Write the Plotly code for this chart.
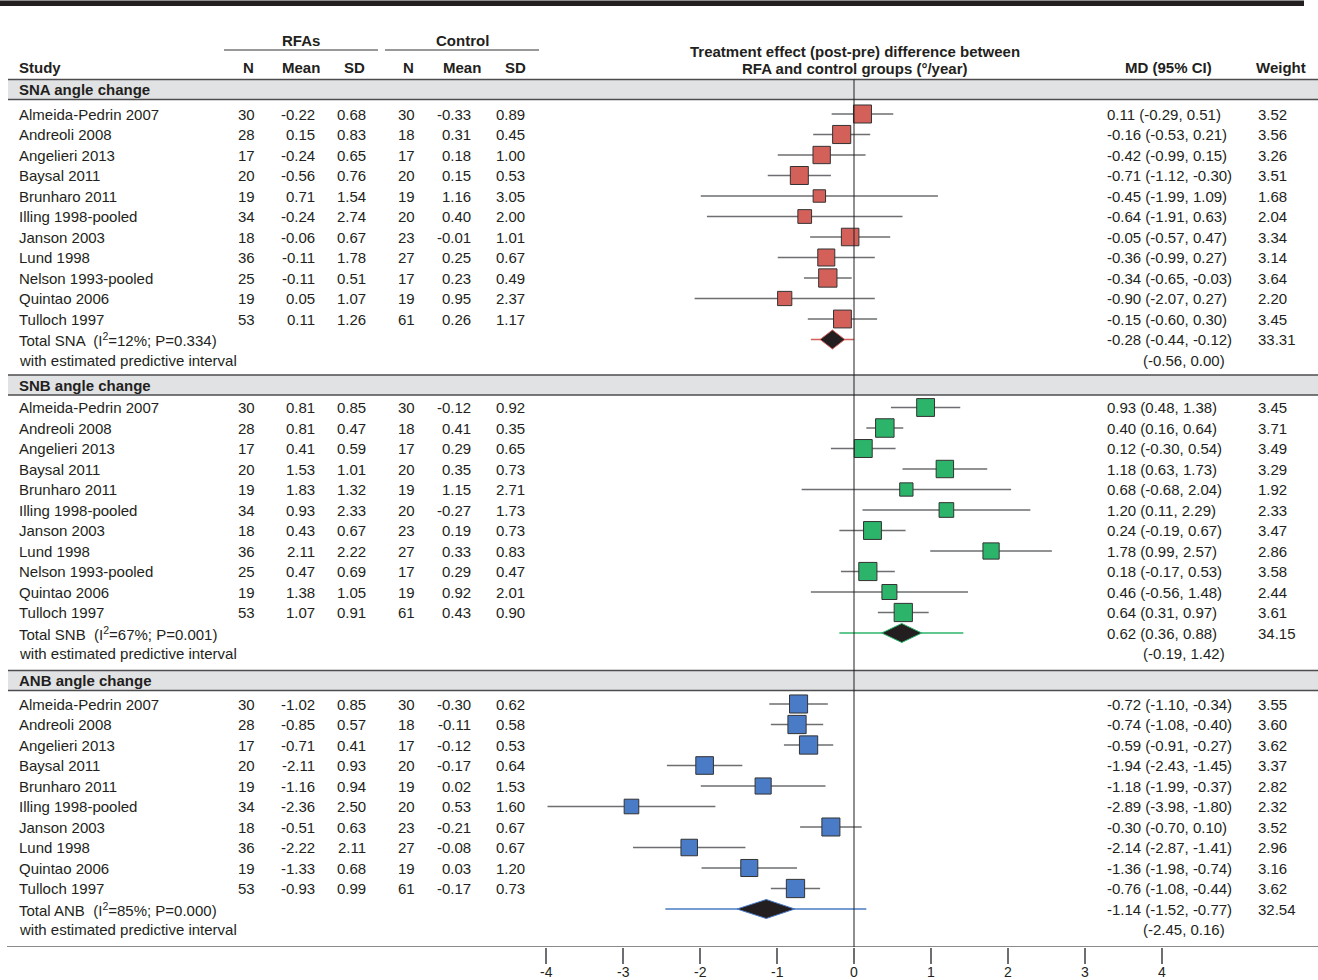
import plotly.graph_objects as go

W, H = 1318, 980

# ---------------- data ----------------
sections = ["SNA angle change", "SNB angle change", "ANB angle change"]
section_short = ["SNA", "SNB", "ANB"]

sna_names = ["Almeida-Pedrin 2007", "Andreoli 2008", "Angelieri 2013", "Baysal 2011", "Brunharo 2011",
             "Illing 1998-pooled", "Janson 2003", "Lund 1998", "Nelson 1993-pooled", "Quintao 2006", "Tulloch 1997"]
sna_rfa_n = [30, 28, 17, 20, 19, 34, 18, 36, 25, 19, 53]
sna_rfa_mean = [-0.22, 0.15, -0.24, -0.56, 0.71, -0.24, -0.06, -0.11, -0.11, 0.05, 0.11]
sna_rfa_sd = [0.68, 0.83, 0.65, 0.76, 1.54, 2.74, 0.67, 1.78, 0.51, 1.07, 1.26]
sna_ctl_n = [30, 18, 17, 20, 19, 20, 23, 27, 17, 19, 61]
sna_ctl_mean = [-0.33, 0.31, 0.18, 0.15, 1.16, 0.40, -0.01, 0.25, 0.23, 0.95, 0.26]
sna_ctl_sd = [0.89, 0.45, 1.00, 0.53, 3.05, 2.00, 1.01, 0.67, 0.49, 2.37, 1.17]
sna_md = [0.11, -0.16, -0.42, -0.71, -0.45, -0.64, -0.05, -0.36, -0.34, -0.90, -0.15]
sna_lo = [-0.29, -0.53, -0.99, -1.12, -1.99, -1.91, -0.57, -0.99, -0.65, -2.07, -0.60]
sna_hi = [0.51, 0.21, 0.15, -0.30, 1.09, 0.63, 0.47, 0.27, -0.03, 0.27, 0.30]
sna_w = [3.52, 3.56, 3.26, 3.51, 1.68, 2.04, 3.34, 3.14, 3.64, 2.20, 3.45]

snb_names = ["Almeida-Pedrin 2007", "Andreoli 2008", "Angelieri 2013", "Baysal 2011", "Brunharo 2011",
             "Illing 1998-pooled", "Janson 2003", "Lund 1998", "Nelson 1993-pooled", "Quintao 2006", "Tulloch 1997"]
snb_rfa_n = [30, 28, 17, 20, 19, 34, 18, 36, 25, 19, 53]
snb_rfa_mean = [0.81, 0.81, 0.41, 1.53, 1.83, 0.93, 0.43, 2.11, 0.47, 1.38, 1.07]
snb_rfa_sd = [0.85, 0.47, 0.59, 1.01, 1.32, 2.33, 0.67, 2.22, 0.69, 1.05, 0.91]
snb_ctl_n = [30, 18, 17, 20, 19, 20, 23, 27, 17, 19, 61]
snb_ctl_mean = [-0.12, 0.41, 0.29, 0.35, 1.15, -0.27, 0.19, 0.33, 0.29, 0.92, 0.43]
snb_ctl_sd = [0.92, 0.35, 0.65, 0.73, 2.71, 1.73, 0.73, 0.83, 0.47, 2.01, 0.90]
snb_md = [0.93, 0.40, 0.12, 1.18, 0.68, 1.20, 0.24, 1.78, 0.18, 0.46, 0.64]
snb_lo = [0.48, 0.16, -0.30, 0.63, -0.68, 0.11, -0.19, 0.99, -0.17, -0.56, 0.31]
snb_hi = [1.38, 0.64, 0.54, 1.73, 2.04, 2.29, 0.67, 2.57, 0.53, 1.48, 0.97]
snb_w = [3.45, 3.71, 3.49, 3.29, 1.92, 2.33, 3.47, 2.86, 3.58, 2.44, 3.61]

anb_names = ["Almeida-Pedrin 2007", "Andreoli 2008", "Angelieri 2013", "Baysal 2011", "Brunharo 2011",
             "Illing 1998-pooled", "Janson 2003", "Lund 1998", "Quintao 2006", "Tulloch 1997"]
anb_rfa_n = [30, 28, 17, 20, 19, 34, 18, 36, 19, 53]
anb_rfa_mean = [-1.02, -0.85, -0.71, -2.11, -1.16, -2.36, -0.51, -2.22, -1.33, -0.93]
anb_rfa_sd = [0.85, 0.57, 0.41, 0.93, 0.94, 2.50, 0.63, 2.11, 0.68, 0.99]
anb_ctl_n = [30, 18, 17, 20, 19, 20, 23, 27, 19, 61]
anb_ctl_mean = [-0.30, -0.11, -0.12, -0.17, 0.02, 0.53, -0.21, -0.08, 0.03, -0.17]
anb_ctl_sd = [0.62, 0.58, 0.53, 0.64, 1.53, 1.60, 0.67, 0.67, 1.20, 0.73]
anb_md = [-0.72, -0.74, -0.59, -1.94, -1.18, -2.89, -0.30, -2.14, -1.36, -0.76]
anb_lo = [-1.10, -1.08, -0.91, -2.43, -1.99, -3.98, -0.70, -2.87, -1.98, -1.08]
anb_hi = [-0.34, -0.40, -0.27, -1.45, -0.37, -1.80, 0.10, -1.41, -0.74, -0.44]
anb_w = [3.55, 3.60, 3.62, 3.37, 2.82, 2.32, 3.52, 2.96, 3.16, 3.62]

total_md = [-0.28, 0.62, -1.14]
total_lo = [-0.44, 0.36, -1.52]
total_hi = [-0.12, 0.88, -0.77]
total_w = [33.31, 34.15, 32.54]
pred_lo = [-0.56, -0.19, -2.45]
pred_hi = [0.00, 1.42, 0.16]
total_i2 = [12, 67, 85]
total_p = [0.334, 0.001, 0.000]

tick_vals = [-4, -3, -2, -1, 0, 1, 2, 3, 4]
tick_labels = ["-4", "-3", "-2", "-1", "0", "1", "2", "3", "4"]

colors = ["#d4605a", "#2bb46a", "#4a7bc6"]

data = [
    dict(names=sna_names, rn=sna_rfa_n, rm=sna_rfa_mean, rs=sna_rfa_sd, cn=sna_ctl_n, cm=sna_ctl_mean,
         cs=sna_ctl_sd, md=sna_md, lo=sna_lo, hi=sna_hi, w=sna_w),
    dict(names=snb_names, rn=snb_rfa_n, rm=snb_rfa_mean, rs=snb_rfa_sd, cn=snb_ctl_n, cm=snb_ctl_mean,
         cs=snb_ctl_sd, md=snb_md, lo=snb_lo, hi=snb_hi, w=snb_w),
    dict(names=anb_names, rn=anb_rfa_n, rm=anb_rfa_mean, rs=anb_rfa_sd, cn=anb_ctl_n, cm=anb_ctl_mean,
         cs=anb_ctl_sd, md=anb_md, lo=anb_lo, hi=anb_hi, w=anb_w),
]

# ---------------- layout helpers ----------------
TXT = "#231f20"
FONT = "Liberation Sans, Arial, Helvetica, sans-serif"
FS = 15
X0_PX, UNIT_PX = 854, 77.0
AXIS_Y = 947
ROW = 20.5
HEADER_Y = [89.5, 385, 680.5]     # section band centres (layout)
FIRST_ROW_Y = [114, 407.5, 704]   # first study row of each section (layout)

fig = go.Figure()
annotations = []
shapes = []


def px(x):
    return x / W


def text(xp, y, s, anchor="left", bold=False, size=FS):
    if bold:
        s = "<b>" + s + "</b>"
    annotations.append(dict(x=px(xp), y=y, xref="paper", yref="y", text=s, showarrow=False,
                            xanchor=anchor, yanchor="middle", borderpad=0,
                            font=dict(family=FONT, size=size, color=TXT)))


def hline(x0p, x1p, y, color, width):
    shapes.append(dict(type="line", xref="paper", yref="y", x0=px(x0p), x1=px(x1p), y0=y, y1=y,
                       line=dict(color=color, width=width), layer="below"))


# top black bar
shapes.append(dict(type="rect", xref="paper", yref="y", x0=0, x1=px(1304), y0=0.5, y1=6,
                   fillcolor="#231f20", line=dict(width=0), layer="below"))

# column headers
text(301, 40, "RFAs", "center", True)
text(462, 40, "Control", "center", True)
hline(224, 378, 50, "#333333", 1)
hline(385, 539, 50, "#333333", 1)
HY = 67
text(18, HY, "Study", "left", True)
for lab, xc in zip(["N", "Mean", "SD", "N", "Mean", "SD"], [248, 301, 354, 408, 462, 515]):
    text(xc, HY, lab, "center", True)
text(855, 51, "Treatment effect (post-pre) difference between", "center", True)
text(855, 68, "RFA and control groups (°/year)", "center", True)
text(1168, HY, "MD (95% CI)", "center", True)
text(1281, HY, "Weight", "center", True)

# rows
for si, d in enumerate(data):
    col = colors[si]
    hy = HEADER_Y[si]
    # section band
    shapes.append(dict(type="rect", xref="paper", yref="y", x0=px(8), x1=1, y0=hy - 10, y1=hy + 10,
                       fillcolor="#e1e2e4", line=dict(width=0), layer="below"))
    hline(8, W, hy - 10, "#4d4d4f", 1.5)
    hline(8, W, hy + 10, "#4d4d4f", 1.5)
    text(18, hy, sections[si], "left", True)
    y = FIRST_ROW_Y[si]
    ys = []
    for i, name in enumerate(d["names"]):
        ys.append(y)
        text(18, y, name)
        text(256, y, str(d["rn"][i]), "right")
        text(316, y, f"{d['rm'][i]:.2f}", "right")
        text(367, y, f"{d['rs'][i]:.2f}", "right")
        text(416, y, str(d["cn"][i]), "right")
        text(472, y, f"{d['cm'][i]:.2f}", "right")
        text(526, y, f"{d['cs'][i]:.2f}", "right")
        text(1106, y, f"{d['md'][i]:.2f} ({d['lo'][i]:.2f}, {d['hi'][i]:.2f})", "left")
        text(1257, y, f"{d['w'][i]:.2f}", "left")
        y += ROW
    ty = y
    py = y + ROW
    text(18, ty, f"Total {section_short[si]}  (I<sup>2</sup>={total_i2[si]}%; P={total_p[si]:.3f})")
    text(18, py, "with estimated predictive interval")
    text(1106, ty, f"{total_md[si]:.2f} ({total_lo[si]:.2f}, {total_hi[si]:.2f})", "left")
    text(1257, ty, f"{total_w[si]:.2f}", "left")
    text(1142, py, f"({pred_lo[si]:.2f}, {pred_hi[si]:.2f})", "left")

    # CI lines
    cx, cy = [], []
    for i in range(len(d["names"])):
        cx += [d["lo"][i], d["hi"][i], None]
        cy += [ys[i], ys[i], None]
    fig.add_trace(go.Scatter(x=cx, y=cy, mode="lines", line=dict(color="#6d6e71", width=1.5),
                             hoverinfo="skip", showlegend=False))
    # squares
    fig.add_trace(go.Scatter(x=d["md"], y=ys, mode="markers",
                             marker=dict(symbol="square", size=[9.6 * w ** 0.5 for w in d["w"]],
                                         color=col, opacity=1, line=dict(color="#333333", width=1)),
                             showlegend=False, hoverinfo="skip"))
    # predictive interval line
    fig.add_trace(go.Scatter(x=[pred_lo[si], pred_hi[si]], y=[ty, ty], mode="lines",
                             line=dict(color=col, width=1.5), showlegend=False, hoverinfo="skip"))
    # diamond
    hh = 9.5
    fig.add_trace(go.Scatter(x=[total_lo[si], total_md[si], total_hi[si], total_md[si], total_lo[si]],
                             y=[ty, ty - hh, ty, ty + hh, ty], mode="lines", fill="toself",
                             fillcolor="#231f20", line=dict(color=col, width=1),
                             showlegend=False, hoverinfo="skip"))

# zero line
shapes.append(dict(type="line", xref="x", yref="y", x0=0, x1=0, y0=79.5, y1=AXIS_Y,
                   line=dict(color="#231f20", width=1)))
# bottom axis line
hline(7, W, AXIS_Y, "#8a8a8c", 2)

# axis tick labels (placed just below the ticks, paper y below the plot area)
label_y = -(972 - AXIS_Y) / AXIS_Y
for v, lab in zip(tick_vals, tick_labels):
    annotations.append(dict(x=v, y=label_y, xref="x", yref="paper", text=lab, showarrow=False,
                            xanchor="center", yanchor="middle", borderpad=0,
                            font=dict(family=FONT, size=14, color=TXT)))

fig.update_layout(
    width=W, height=H,
    margin=dict(l=0, r=0, t=0, b=H - AXIS_Y, pad=0, autoexpand=False),
    paper_bgcolor="white", plot_bgcolor="white",
    annotations=annotations, shapes=shapes,
    xaxis=dict(range=[-X0_PX / UNIT_PX, (W - X0_PX) / UNIT_PX], showgrid=False, zeroline=False,
               showline=False, tickmode="array", tickvals=tick_vals, automargin=False,
               showticklabels=False, ticks="outside", ticklen=16, tickwidth=1.5,
               tickcolor="#6d6e71", fixedrange=True),
    yaxis=dict(range=[AXIS_Y, 0], showgrid=False, zeroline=False, showline=False, automargin=False,
               showticklabels=False, ticks="", fixedrange=True),
    showlegend=False,
)

fig.write_html("out.html", config={"displayModeBar": False},
               post_script="document.body.style.margin='0';document.body.style.overflow='hidden';")
